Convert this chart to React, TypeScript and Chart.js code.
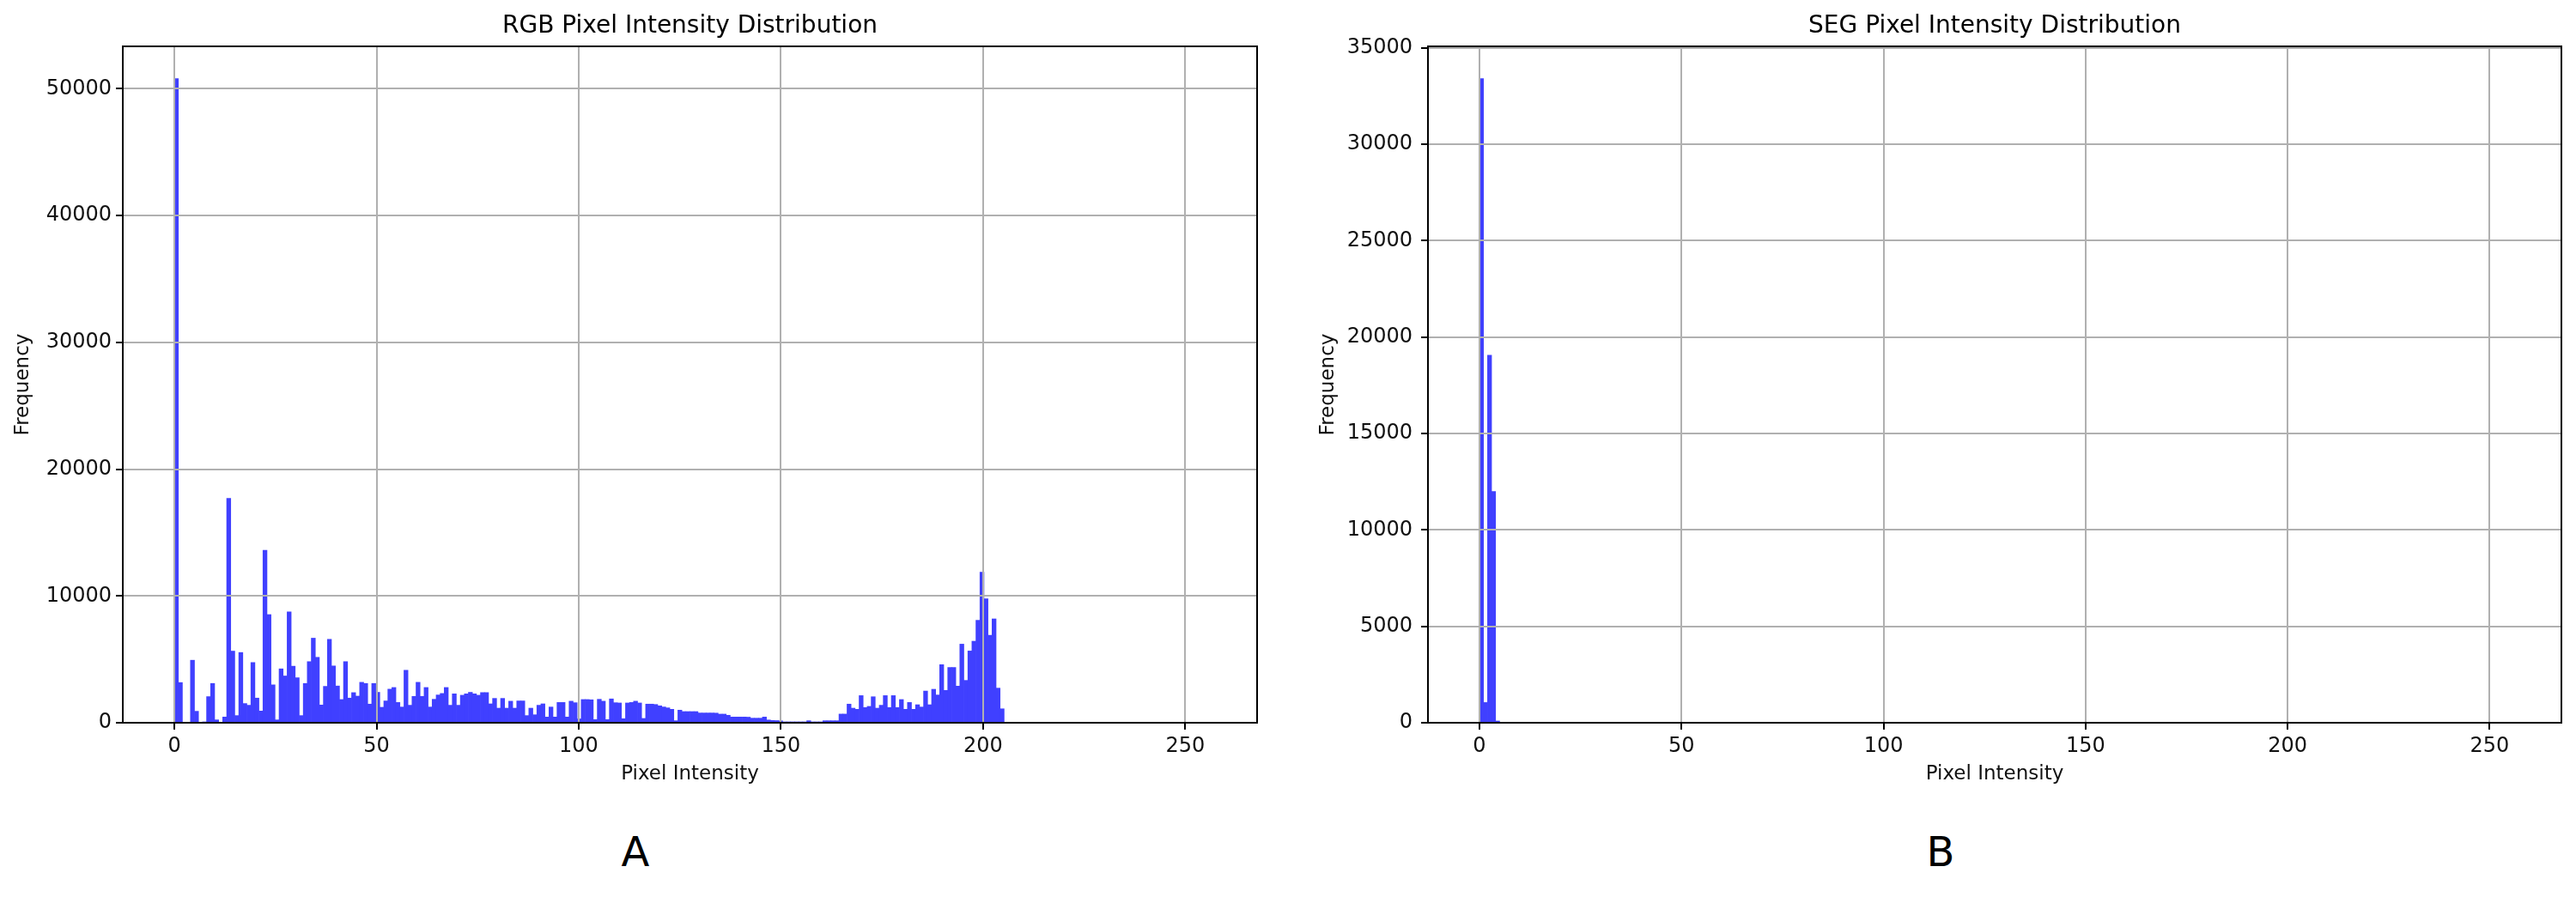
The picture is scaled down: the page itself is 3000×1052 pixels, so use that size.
import React, { useEffect, useRef } from "react";
import { Chart, registerables } from "chart.js";

Chart.register(...registerables);

// ---------- data ----------
const BIN_COUNT = 256;
const RANGE_MAX = 255;
const X_TICKS = [0, 50, 100, 150, 200, 250];
const RGB_Y_TICKS = [0, 10000, 20000, 30000, 40000, 50000];
const SEG_Y_TICKS = [0, 5000, 10000, 15000, 20000, 25000, 30000, 35000];

const RGB_TITLE = "RGB Pixel Intensity Distribution";
const SEG_TITLE = "SEG Pixel Intensity Distribution";
const X_LABEL = "Pixel Intensity";
const Y_LABEL = "Frequency";
const PANEL_LABELS = ["A", "B"];

// frequency per intensity value 0..205 (RGB)
const RGB_COUNTS = [
  50800, 3170, 0, 0, 4930, 905, 0, 70, 2060, 3100,
  226, 0, 450, 17700, 5650, 565, 5540, 1515, 1380, 4750,
  1945, 927, 13600, 8530, 2990, 226, 4250, 3690, 8750, 4460,
  3550, 565, 3100, 4820, 6670, 5160, 1400, 2870, 6580, 4480,
  2900, 1830, 4820, 1945, 2375, 2100, 3190, 3100, 1470, 3100,
  2400, 1220, 1720, 2650, 2780, 1600, 1240, 4140, 1380, 2080,
  3190, 2080, 2780, 1240, 1850, 2190, 2310, 2780, 1380, 2280,
  1380, 2170, 2280, 2400, 2280, 2170, 2380, 2380, 1490, 1920,
  1150, 1920, 1150, 1700, 1150, 1720, 1720, 565, 1150, 630,
  1380, 1490, 450, 1240, 450, 1600, 1600, 450, 1700, 1580,
  300, 1830, 1830, 1810, 250, 1850, 1700, 250, 1880, 1580,
  1560, 320, 1560, 1600, 1700, 1560, 340, 1470, 1470, 1440,
  1335, 1245, 1175, 1060, 160, 995, 880, 880, 880, 880,
  770, 770, 770, 770, 760, 680, 680, 590, 450, 450,
  450, 450, 440, 360, 360, 360, 450, 220, 180, 170,
  150, 70, 70, 70, 70, 70, 70, 160, 70, 70,
  70, 160, 160, 160, 160, 685, 685, 1470, 1150, 1060,
  2140, 1200, 1290, 2050, 1150, 1380, 2140, 1200, 2140, 1200,
  1830, 1060, 1600, 1060, 1420, 1240, 2500, 1420, 2640, 2190,
  4580, 2550, 4360, 4360, 2890, 6200, 3340, 5660, 6430, 8080,
  11870, 9770, 6900, 8190, 2730, 1100,
];

// frequency per intensity value 0..4 (SEG)
const SEG_COUNTS = [33410, 1050, 19060, 11990, 90];

// ---------- style ----------
const FONT = "'DejaVu Sans', 'Liberation Sans', sans-serif";
const BAR_COLOR = "#4040ff";
const GRID_COLOR = "#b0b0b0";
const TEXT_COLOR = "#111111";

const CANVAS_W = 1500;
const CANVAS_H = 950;

const framePlugin = {
  id: "frame",
  afterDraw(chart: any) {
    const { ctx, chartArea } = chart;
    const { left, top, right, bottom } = chartArea;
    ctx.save();
    ctx.strokeStyle = "#000";
    ctx.lineWidth = 2;
    ctx.strokeRect(left, top, right - left, bottom - top);
    ctx.restore();
  },
};

type PanelProps = {
  counts: number[];
  yTicks: number[];
  title: string;
  left: number;
  yAxisWidth: number;
  padRight: number;
  yTickPad: number;
  yTitlePad: number;
};

function HistPanel(props: PanelProps) {
  const ref = useRef<HTMLCanvasElement | null>(null);
  useEffect(() => {
    if (!ref.current) return;
    const binW = RANGE_MAX / BIN_COUNT;
    const points = props.counts.map((c, i) => ({ x: (i + 0.5) * binW, y: c }));
    const xMin = -0.05 * RANGE_MAX;
    const xMax = RANGE_MAX * 1.05;
    const yMax = Math.max(...props.counts) * 1.05;
    const gridOpts = {
      color: GRID_COLOR,
      lineWidth: 2,
      z: 1,
      offset: false,
      drawTicks: true,
      tickLength: 8,
      tickColor: "#000",
      tickWidth: 2,
    };
    const chart = new Chart(ref.current, {
      type: "bar",
      data: {
        datasets: [
          {
            data: points as any,
            backgroundColor: BAR_COLOR,
            borderWidth: 0,
            barPercentage: 1,
            categoryPercentage: 1,
          },
        ],
      },
      options: {
        responsive: false,
        animation: false,
        events: [],
        layout: { padding: { left: 0, right: props.padRight, top: 0, bottom: 0 } },
        plugins: {
          legend: { display: false },
          tooltip: { enabled: false },
          title: {
            display: true,
            text: props.title,
            fullSize: false,
            color: "#000",
            font: { family: FONT, size: 28, weight: "normal", lineHeight: 1.2 },
            padding: { top: 14, bottom: 6.4 },
          },
        },
        scales: {
          x: {
            type: "linear",
            min: xMin,
            max: xMax,
            offset: false,
            afterBuildTicks: (s: any) => {
              s.ticks = X_TICKS.map((v) => ({ value: v }));
            },
            afterFit: (s: any) => {
              s.height = 108;
            },
            grid: gridOpts as any,
            border: { display: false },
            ticks: {
              padding: 5,
              autoSkip: false,
              maxRotation: 0,
              color: TEXT_COLOR,
              font: { family: FONT, size: 24 },
              callback: (v: any) => String(v),
            },
            title: {
              display: true,
              text: X_LABEL,
              color: TEXT_COLOR,
              font: { family: FONT, size: 23, lineHeight: 1.2 },
              padding: { top: 0, bottom: 34 },
            },
          },
          y: {
            type: "linear",
            min: 0,
            max: yMax,
            offset: false,
            afterBuildTicks: (s: any) => {
              s.ticks = props.yTicks.map((v) => ({ value: v }));
            },
            afterFit: (s: any) => {
              s.width = props.yAxisWidth;
            },
            grid: gridOpts as any,
            border: { display: false },
            ticks: {
              padding: props.yTickPad,
              autoSkip: false,
              color: TEXT_COLOR,
              font: { family: FONT, size: 24 },
              callback: (v: any) => String(v),
            },
            title: {
              display: true,
              text: Y_LABEL,
              color: TEXT_COLOR,
              font: { family: FONT, size: 23, lineHeight: 1.2 },
              padding: { top: props.yTitlePad, bottom: 0 },
            },
          },
        },
      } as any,
      plugins: [framePlugin],
    });
    return () => chart.destroy();
  }, []);
  return (
    <canvas
      ref={ref}
      width={CANVAS_W}
      height={CANVAS_H}
      style={{ position: "absolute", left: props.left, top: 0, width: CANVAS_W, height: CANVAS_H }}
    />
  );
}

export default function App() {
  useEffect(() => {
    document.body.style.margin = "0";
    document.body.style.background = "#fff";
  }, []);
  const labelStyle = (cx: number): React.CSSProperties => ({
    position: "absolute",
    left: cx - 60,
    top: 968,
    width: 120,
    textAlign: "center",
    fontFamily: FONT,
    fontSize: 48,
    lineHeight: "48px",
    color: "#000",
  });
  return (
    <div style={{ position: "relative", width: 3000, height: 1052, background: "#fff", overflow: "hidden" }}>
      <HistPanel
        counts={RGB_COUNTS}
        yTicks={RGB_Y_TICKS}
        title={RGB_TITLE}
        left={0}
        yAxisWidth={143}
        padRight={36}
        yTickPad={5}
        yTitlePad={13}
      />
      <HistPanel
        counts={SEG_COUNTS}
        yTicks={SEG_Y_TICKS}
        title={SEG_TITLE}
        left={1500}
        yAxisWidth={163}
        padRight={17}
        yTickPad={10}
        yTitlePad={33}
      />
      <div style={labelStyle(740)}>{PANEL_LABELS[0]}</div>
      <div style={labelStyle(2260)}>{PANEL_LABELS[1]}</div>
    </div>
  );
}
